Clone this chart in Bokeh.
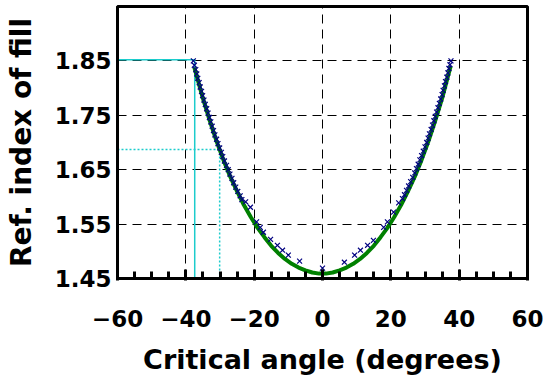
from bokeh.plotting import figure
from bokeh.models import FixedTicker, Range1d
from bokeh.embed import file_html
from bokeh.resources import INLINE

# Fitted curve
curve_angle = [-37.5, -35, -33, -31, -29, -27, -25, -23, -21, -19, -17, -15, -13, -11, -9, -7, -5, -3, -1, 0,
               1, 3, 5, 7, 9, 11, 13, 15, 17, 19, 21, 23, 25, 27, 29, 31, 33, 35, 37.5]
curve_index = [1.838, 1.781, 1.740, 1.702, 1.668, 1.637, 1.610, 1.585, 1.563, 1.543, 1.526, 1.510, 1.497, 1.486, 1.477, 1.470, 1.465, 1.461, 1.459, 1.459,
               1.459, 1.461, 1.465, 1.470, 1.477, 1.486, 1.497, 1.510, 1.526, 1.543, 1.563, 1.585, 1.610, 1.637, 1.668, 1.702, 1.740, 1.781, 1.840]

meas_angle_left = [-37.8, -37.5, -37.1, -36.8, -36.5, -36.1, -35.8, -35.4, -35.1, -34.7, -34.3, -33.9, -33.5, -33.1,
                   -32.7, -32.3, -31.9, -31.5, -31.0, -30.6, -30.1, -29.6, -29.2, -28.7, -28.1, -27.6, -27.1, -26.5,
                   -26.0, -25.4, -24.8, -24.1, -23.6, -22.5, -21.1, -19.3, -18.2, -17.3, -15.2, -13.2, -11.7, -10.0, -6.7, 0.0]
meas_index_left = [1.850, 1.842, 1.834, 1.826, 1.818, 1.810, 1.802, 1.794, 1.786, 1.778, 1.770, 1.762, 1.754, 1.746,
                   1.738, 1.730, 1.722, 1.714, 1.706, 1.698, 1.690, 1.682, 1.674, 1.666, 1.658, 1.650, 1.642, 1.634,
                   1.626, 1.618, 1.610, 1.602, 1.595, 1.591, 1.581, 1.554, 1.544, 1.535, 1.522, 1.511, 1.502, 1.493, 1.482, 1.469]
meas_angle_right = [6.4, 9.4, 11.1, 13.2, 14.9, 17.9, 19.0, 20.8, 22.3, 23.4, 24.0, 24.6, 25.2, 25.8, 26.4, 27.0,
                    27.5, 28.0, 28.5, 29.0, 29.5, 30.0, 30.5, 30.9, 31.3, 31.8, 32.2, 32.6, 33.0, 33.4, 33.8, 34.2,
                    34.6, 35.0, 35.3, 35.7, 36.0, 36.4, 36.7, 37.0, 37.3, 37.6]
meas_index_right = [1.480, 1.493, 1.502, 1.511, 1.520, 1.544, 1.554, 1.572, 1.589, 1.597, 1.604, 1.612, 1.620, 1.628, 1.636, 1.644,
                    1.652, 1.660, 1.668, 1.676, 1.684, 1.692, 1.700, 1.708, 1.716, 1.724, 1.732, 1.740, 1.748, 1.756, 1.764, 1.772,
                    1.780, 1.788, 1.796, 1.804, 1.812, 1.820, 1.828, 1.836, 1.843, 1.850]

# Guide lines
guide_solid_angle = -37.4
guide_solid_index = 1.852
guide_dot_angle = -30.1
guide_dot_index = 1.687

x_ticks = [-60, -40, -20, 0, 20, 40, 60]
y_ticks = [1.45, 1.55, 1.65, 1.75, 1.85]

p = figure(width=543, height=381, output_backend="svg", toolbar_location=None,
           x_range=Range1d(-60, 60), y_range=Range1d(1.45, 1.95),
           min_border_left=117, min_border_right=16, min_border_top=6, min_border_bottom=103)

p.outline_line_color = "black"
p.outline_line_width = 3
p.background_fill_color = "white"
p.border_fill_color = "white"

# grid
p.xgrid.ticker = FixedTicker(ticks=[-40, -20, 0, 20, 40])
p.ygrid.ticker = FixedTicker(ticks=[1.55, 1.65, 1.75, 1.85])
for g in (p.xgrid, p.ygrid):
    g.grid_line_color = "black"
    g.grid_line_dash = "9 6"
    g.grid_line_width = 1

# axes
xa = p.xaxis[0]
xa.ticker = FixedTicker(ticks=x_ticks, minor_ticks=[v for v in range(-55, 60, 5) if v % 20 != 0])
xa.axis_line_width = 3
xa.major_tick_in = 9
xa.major_tick_out = 2
xa.major_tick_line_width = 3
xa.minor_tick_in = 7
xa.minor_tick_out = 0
xa.minor_tick_line_width = 3
xa.major_label_standoff = 29
xa.major_label_overrides = {v: (str(v).replace("-", "\u2212")) for v in x_ticks}
xa.axis_label = "Critical angle (degrees)"
xa.axis_label_standoff = 14

ya = p.yaxis[0]
ya.ticker = FixedTicker(ticks=y_ticks)
ya.major_label_overrides = {v: f"{v:.2f}" for v in y_ticks}
ya.axis_line_width = 3
ya.major_tick_in = 0
ya.major_tick_out = 0
ya.minor_tick_in = 0
ya.minor_tick_out = 0
ya.major_label_standoff = 6
ya.axis_label = "Ref. index of fill"
ya.axis_label_standoff = 14

for ax in (xa, ya):
    ax.major_label_text_font = "DejaVu Sans"
    ax.major_label_text_font_style = "bold"
    ax.major_label_text_font_size = "23px"
    ax.major_label_text_color = "black"
    ax.axis_label_text_font = "DejaVu Sans"
    ax.axis_label_text_font_style = "bold"
    ax.axis_label_text_color = "black"
    ax.axis_line_color = "black"
    ax.major_tick_line_color = "black"
    ax.minor_tick_line_color = "black"
xa.axis_label_text_font_size = "27px"
ya.axis_label_text_font_size = "28px"

cyan = "#1ccccc"
# guides
p.line([-60, guide_solid_angle], [guide_solid_index, guide_solid_index], line_color=cyan, line_width=1.5)
p.line([guide_solid_angle, guide_solid_angle], [1.45, guide_solid_index], line_color=cyan, line_width=1.5)
p.line([-60, guide_dot_angle], [guide_dot_index, guide_dot_index], line_color=cyan, line_width=1.5, line_dash="2 2")
p.line([guide_dot_angle, guide_dot_angle], [1.45, guide_dot_index], line_color=cyan, line_width=1.5, line_dash="2 2")

# curve
p.line(curve_angle, curve_index, line_color="#008000", line_width=4)

# measured
p.scatter(meas_angle_left + meas_angle_right, meas_index_left + meas_index_right,
          marker="x", size=7, line_color="#000080", line_width=1.2)

open("out.html", "w").write(file_html(p, INLINE))
